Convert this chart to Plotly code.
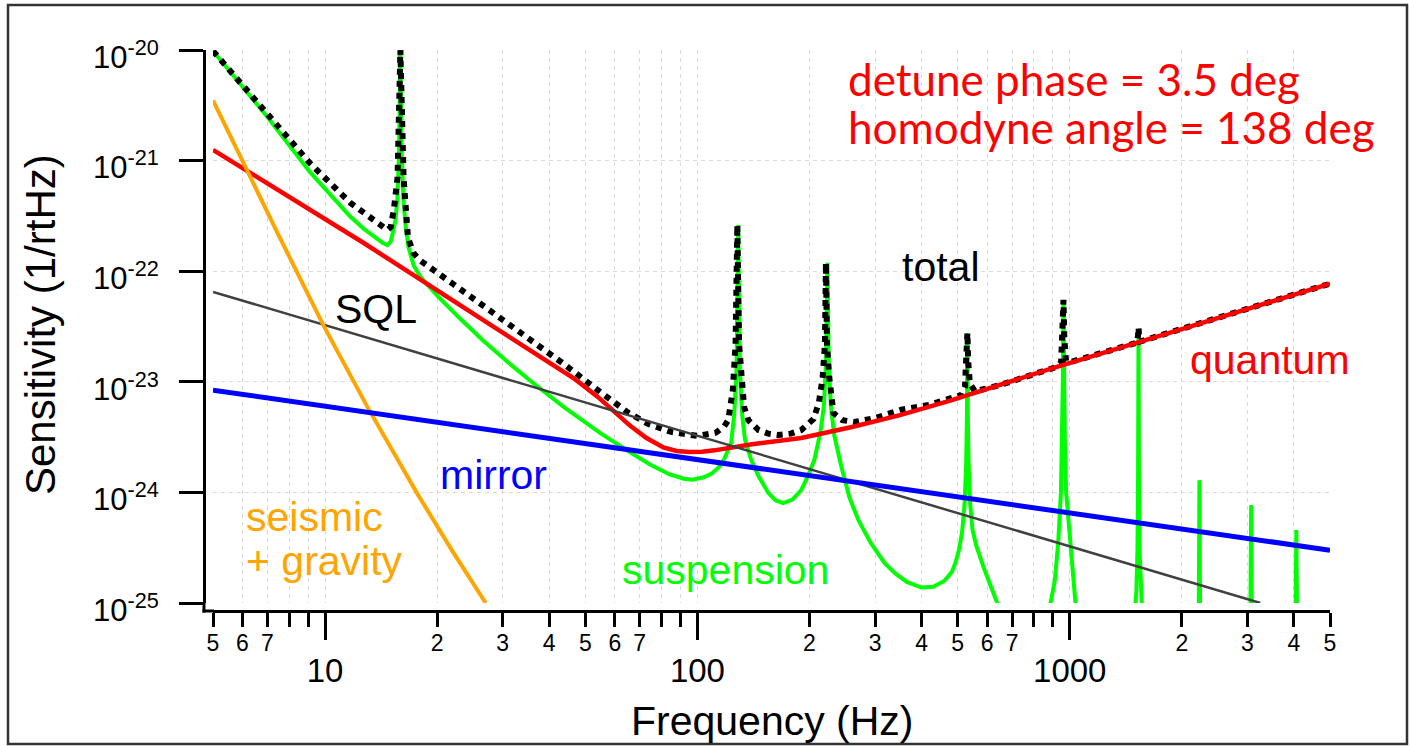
import math
import plotly.graph_objects as go

# ---------------- data ----------------
# suspension thermal / pendulum noise (green)
susp_freq = [5, 7, 9.1, 10.3, 11.7, 12.7, 13.8, 14.3, 14.7, 15.0, 15.26, 15.45, 15.64, 15.8,
             15.93, 16.06, 16.23, 16.45, 16.74, 17.3, 18.04, 20, 23, 26.7, 31, 36.4, 44, 55,
             66, 75, 84, 92, 97, 104, 109, 114, 118, 123.2, 125.5, 127.3, 128.7, 130.1,
             131.9, 134.2, 139.5, 146, 155, 162, 170, 180, 190, 198, 206, 214, 218.5, 221.5,
             223.4, 225.3, 228.3, 233, 243.7, 256, 270.7, 292, 318, 340, 365, 400, 430, 460,
             482, 494, 505, 514, 522, 527, 529.5, 531, 532.5, 535, 540, 548, 561, 587, 632,
             655,
             862, 888, 912, 931, 947, 954, 958, 962, 966, 970, 978, 1003, 1021, 1036, 1060,
             1495, 1510, 1520, 1526, 1530, 1534, 1540, 1550, 1565,
             2221, 2230, 2239, 3057, 3070, 3083, 4043, 4060, 4077]
susp_val = [9.8e-21, 2.48e-21, 7.9e-22, 4.95e-22, 3.1e-22, 2.42e-22, 1.95e-22, 1.8e-22,
            1.72e-22, 1.85e-22, 2.36e-22, 2.9e-22, 4.5e-22, 1.2e-21,
            1.0e-20, 1.2e-21, 4.5e-22, 2.6e-22, 1.66e-22, 1.12e-22, 8.9e-23, 6.0e-23, 3.75e-23,
            2.33e-23, 1.5e-23, 9.6e-24, 5.85e-24, 3.42e-24,
            2.3e-24, 1.77e-24, 1.46e-24, 1.33e-24, 1.3e-24, 1.37e-24, 1.47e-24, 1.68e-24,
            2.0e-24, 2.8e-24, 5.0e-24, 1.2e-23, 2.62e-22, 1.2e-23,
            5.0e-24, 3.0e-24, 1.96e-24, 1.4e-24, 9.9e-25, 8.5e-25, 8.0e-25, 8.6e-25, 1.05e-24,
            1.4e-24, 1.96e-24, 3.5e-24, 6.0e-24, 1.5e-23,
            1.19e-22, 1.5e-23, 6.0e-24, 3.3e-24, 1.7e-24, 9.0e-25, 5.6e-25, 3.5e-25, 2.3e-25,
            1.85e-25, 1.55e-25, 1.38e-25, 1.4e-25, 1.58e-25,
            1.9e-25, 2.35e-25, 3.1e-25, 4.4e-25, 8.0e-25, 1.8e-24, 5.0e-24, 2.76e-23, 5.0e-24,
            1.8e-24, 8.0e-25, 4.6e-25, 3.3e-25, 2.1e-25, 1.06e-25,
            8.0e-26,
            8.0e-26, 1.0e-25, 1.6e-25, 3.5e-25, 1.0e-24, 3.0e-24, 1.0e-23, 5.5e-23, 1.0e-23,
            3.0e-24, 1.0e-24, 3.5e-25, 1.6e-25, 1.0e-25, 8.0e-26,
            8.0e-26, 1.3e-25, 3.0e-25, 1.5e-24, 2.76e-23, 1.5e-24, 3.0e-25, 1.3e-25, 8.0e-26,
            8.0e-26, 1.29e-24, 8.0e-26, 8.0e-26, 7.7e-25, 8.0e-26, 8.0e-26, 4.57e-25, 8.0e-26]

# quantum noise (red)
quantum_freq = [5, 8, 12.7, 20, 29, 40, 47, 54, 60, 66, 73, 81, 88, 95, 103, 111, 140, 190,
                260, 350, 480, 900, 2000, 5000]
quantum_val = [1.25e-21, 4.65e-22, 1.8e-22, 6.7e-23, 3.0e-23, 1.52e-23, 1.05e-23, 7.3e-24,
               5.33e-24, 4.0e-24, 3.1e-24, 2.55e-24, 2.37e-24, 2.32e-24, 2.33e-24, 2.4e-24,
               2.72e-24, 3.1e-24, 3.9e-24, 5.0e-24, 6.8e-24, 1.33e-23, 3.0e-23, 7.7e-23]

# total (black dotted)
total_freq = [5, 7, 9.1, 11.7, 13.5, 14.7, 15.0, 15.3, 15.65, 15.93, 16.25, 16.7, 17.3, 18,
              22, 29, 35.7, 44, 54, 65, 73.6, 85, 100, 112, 118, 121, 124.5, 126.6, 128.0,
              129.4, 131.5, 133.5, 137, 146, 155, 165, 178, 190, 205, 212, 217, 220, 221.4,
              222.8, 226, 232, 245, 264, 300, 353, 420, 480, 512, 523, 528, 531, 534, 539,
              556, 650, 800, 920, 948, 957, 962, 967, 977, 1000, 1200, 1450, 1515, 1525,
              1530, 1535, 1545, 2000, 3000, 5000]
total_val = [9.8e-21, 2.69e-21, 9.5e-22, 4.14e-22, 2.9e-22, 2.36e-22, 2.5e-22, 3.6e-22,
             7.0e-22, 1.0e-20, 7.0e-22, 2.0e-22, 1.45e-22, 1.25e-22,
             7.73e-23, 3.98e-23, 2.42e-23, 1.43e-23, 8.41e-24, 5.29e-24, 4.18e-24, 3.52e-24,
             3.24e-24, 3.47e-24, 3.95e-24, 4.49e-24, 8.5e-24, 2.2e-23, 2.62e-22,
             2.2e-23, 1.1e-23, 5.9e-24, 4.5e-24, 3.66e-24, 3.4e-24, 3.3e-24, 3.4e-24, 3.66e-24,
             4.6e-24, 6.5e-24, 1.1e-23, 2.2e-23, 1.19e-22,
             2.2e-23, 1.1e-23, 5.2e-24, 4.5e-24, 4.33e-24, 4.7e-24, 5.6e-24, 6.2e-24, 7.0e-24,
             7.6e-24, 9.0e-24, 1.5e-23, 2.76e-23, 1.5e-23, 9.7e-24,
             8.2e-24, 9.35e-24, 1.17e-23, 1.36e-23, 1.5e-23, 2.5e-23, 5.5e-23, 2.5e-23,
             1.55e-23, 1.5e-23, 1.78e-23, 2.16e-23, 2.26e-23, 2.6e-23,
             3.1e-23, 2.6e-23, 2.31e-23, 3.0e-23, 4.53e-23, 7.7e-23]

# standard quantum limit (grey)
sql_freq = [5, 3250]
sql_val = [6.5e-23, 1.0e-25]

# mirror thermal noise (blue)
mirror_freq = [5, 5000]
mirror_val = [8.4e-24, 3.0e-25]

# seismic + gravity gradient (orange)
seismic_freq = [5, 6, 7.5, 9.9, 13.0, 17.7, 22, 27]
seismic_val = [3.5e-21, 9.8e-22, 2.12e-22, 3.24e-23, 5.9e-24, 9.7e-25, 2.93e-25, 1.0e-25]

# axis ticks
label_tick_vals = [5, 6, 7, 20, 30, 40, 50, 60, 70, 200, 300, 400, 500, 600, 700,
                   2000, 3000, 4000, 5000]
label_tick_text = ["5", "6", "7", "2", "3", "4", "5", "6", "7", "2", "3", "4", "5", "6", "7",
                   "2", "3", "4", "5"]
unlabelled_tick_vals = [8, 9, 10, 80, 90, 100, 800, 900, 1000]
decade_tick_vals = [10, 100, 1000]
decade_tick_text = ["10", "100", "1000"]
y_tick_vals = [1e-25, 1e-24, 1e-23, 1e-22, 1e-21, 1e-20]
y_tick_text = ["10<sup>-25</sup>", "10<sup>-24</sup>", "10<sup>-23</sup>",
               "10<sup>-22</sup>", "10<sup>-21</sup>", "10<sup>-20</sup>"]

# ---------------- layout helpers ----------------
FIG_W, FIG_H = 1410, 746
ML, MR, MT, MB = 190, 70, 40, 130
PW = FIG_W - ML - MR
PH = FIG_H - MT - MB


def px(x):
    return (x - ML) / PW


def py(y):
    return (FIG_H - MB - y) / PH


FONT = "Liberation Sans, Arial, Helvetica, sans-serif"
LABEL_FONT = "Lato, Carlito, Calibri, sans-serif"
GREEN = "#00ff00"
RED = "#ff0000"
BLUE = "#0000ff"
ORANGE = "#ffa500"
GREY = "#404040"

fig = go.Figure()
fig.add_trace(go.Scatter(x=susp_freq, y=susp_val, mode="lines", name="suspension",
                         line=dict(color=GREEN, width=4)))
fig.add_trace(go.Scatter(x=total_freq, y=total_val, mode="lines", name="total",
                         line=dict(color="black", width=6, dash="dot")))
fig.add_trace(go.Scatter(x=quantum_freq, y=quantum_val, mode="lines", name="quantum",
                         line=dict(color=RED, width=4.5)))
fig.add_trace(go.Scatter(x=mirror_freq, y=mirror_val, mode="lines", name="mirror",
                         line=dict(color=BLUE, width=5), xaxis="x2"))
fig.add_trace(go.Scatter(x=sql_freq, y=sql_val, mode="lines", name="SQL",
                         line=dict(color=GREY, width=2.5)))
fig.add_trace(go.Scatter(x=seismic_freq, y=seismic_val, mode="lines", name="seismic + gravity",
                         line=dict(color=ORANGE, width=4)))

xr = [math.log10(5), math.log10(5000)]
GRIDC = "#d9d9d9"
GRIDD = "4px,4px"

fig.update_layout(
    width=FIG_W, height=FIG_H,
    margin=dict(l=ML, r=MR, t=MT, b=MB),
    paper_bgcolor="white", plot_bgcolor="white",
    showlegend=False,
    font=dict(family=FONT, color="black"),
    xaxis=dict(type="log", range=xr, domain=[px(213), px(1330)], anchor="free",
               position=py(611), tickmode="array", tickvals=label_tick_vals,
               ticktext=label_tick_text, ticks="outside", ticklen=14, tickwidth=2.5,
               tickcolor="black", showline=True, linewidth=3, linecolor="black",
               zeroline=False, ticklabelstandoff=-4,
               tickfont=dict(size=23, color="black", family=FONT),
               showgrid=True, gridcolor=GRIDC, gridwidth=1, griddash=GRIDD,
               minor=dict(tickmode="array", tickvals=unlabelled_tick_vals, ticks="outside",
                          ticklen=14, tickwidth=2.5, tickcolor="black", showgrid=True,
                          gridcolor=GRIDC, gridwidth=1, griddash=GRIDD)),
    xaxis2=dict(type="log", range=xr, domain=[px(213), px(1330)], overlaying="x",
                anchor="free", position=py(611), side="bottom", tickmode="array",
                tickvals=decade_tick_vals, ticktext=decade_tick_text, ticks="outside",
                ticklen=28, tickwidth=2.5, tickcolor="black", showline=False,
                showgrid=False, zeroline=False, ticklabelstandoff=2,
                tickfont=dict(size=33, color="black", family=FONT)),
    yaxis=dict(type="log", range=[-25, -20], domain=[py(603), py(50)], anchor="free",
               position=px(204), tickmode="array", tickvals=y_tick_vals,
               ticktext=y_tick_text, ticks="outside", ticklen=24, tickwidth=2.5,
               tickcolor="black", showline=True, linewidth=3, linecolor="black",
               zeroline=False, ticklabelstandoff=14, ticklabelshift=7,
               tickfont=dict(size=31, color="black", family=FONT),
               showgrid=True, gridcolor=GRIDC, gridwidth=1, griddash=GRIDD),
)

# axis corner and outer frame
shapes = [
    dict(type="line", xref="paper", yref="paper", x0=px(204), x1=px(204), y0=py(603),
         y1=py(612.5), line=dict(color="black", width=3)),
    dict(type="line", xref="paper", yref="paper", x0=px(202.5), x1=px(214), y0=py(611),
         y1=py(611), line=dict(color="black", width=3)),
    dict(type="rect", xref="paper", yref="paper", x0=px(8), x1=px(1407), y0=py(744),
         y1=py(5), line=dict(color="#333333", width=2.5), fillcolor="rgba(0,0,0,0)"),
]
fig.update_layout(shapes=shapes)


def label(text, x, y, color, size=41, xanchor="center", family=FONT, angle=0):
    fig.add_annotation(text=text, xref="paper", yref="paper", x=px(x), y=py(y),
                       xanchor=xanchor, yanchor="middle", showarrow=False,
                       textangle=angle, font=dict(size=size, color=color, family=family))


label("total", 941, 267, "black")
label("SQL", 376, 309, "black")
label("quantum", 1270, 360, RED)
label("mirror", 493, 475, BLUE)
label("seismic", 244, 517, ORANGE, xanchor="left")
label("+ gravity", 244, 561, ORANGE, xanchor="left")
label("suspension", 725, 570, GREEN)
label("detune phase = 3.5 deg", 846, 79, RED, size=44, xanchor="left", family=LABEL_FONT)
label("homodyne angle = 138 deg", 846, 127, RED, size=44, xanchor="left", family=LABEL_FONT)
label("Frequency (Hz)", 772, 721, "black", size=41)
label("Sensitivity (1/rtHz)", 40, 325, "black", size=42, angle=-90)

fig.write_html("out.html", config={"displayModeBar": False},
               post_script="document.body.style.margin='0px';")
